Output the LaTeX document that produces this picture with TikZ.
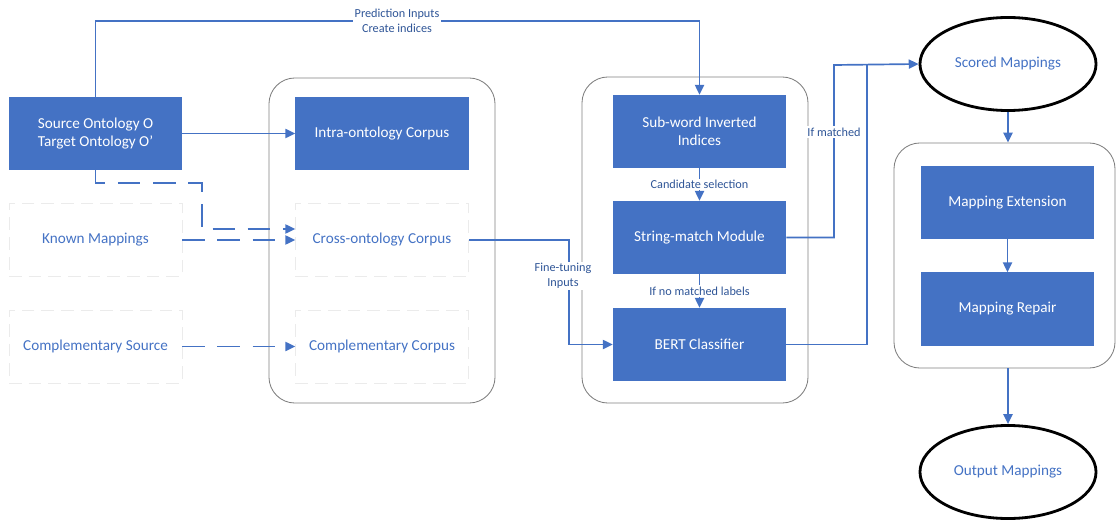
\documentclass[tikz,border=0pt]{standalone}
\usepackage{fontspec}
\setmainfont{Carlito}
\usetikzlibrary{arrows.meta,positioning,calc,shapes.geometric}
\definecolor{boxblue}{HTML}{4472C4}
\definecolor{lblblue}{HTML}{2F5597}
\definecolor{grpgray}{HTML}{7F7F7F}

\begin{document}
\begin{tikzpicture}[x=0.025cm, y=-0.025cm, font=\fontsize{10.8}{13}\selectfont]
    \tikzset{blk/.style={fill=boxblue, text=white, minimum width=4.325cm, minimum height=1.825cm,
             align=center, inner sep=2pt},
             ghost/.style={draw=black!8, dash pattern=on 9pt off 5pt, text=boxblue,
             minimum width=4.325cm, minimum height=1.825cm, align=center},
             grp/.style={draw=grpgray, line width=0.6pt, rounded corners=0.65cm},
             oval/.style={ellipse, draw=black, line width=2pt, text=boxblue,
             minimum width=4.4cm, minimum height=2.325cm},
             link/.style={draw=boxblue, line width=1.2pt, -{Triangle[length=7pt,width=6.5pt]}},
             dlink/.style={link, dash pattern=on 16pt off 9pt},
             lbl/.style={fill=white, text=lblblue, font=\fontsize{8.7}{10.5}\selectfont,
             inner sep=1pt, align=center}}
    \useasboundingbox (0,0) rectangle (1117,525);
    \node[grp, minimum width=5.65cm, minimum height=8.125cm] (grpA) at (382,240.5) {};
    \node[grp, minimum width=5.65cm, minimum height=8.15cm]  (grpB) at (695,240) {};
    \node[grp, minimum width=5.525cm, minimum height=5.625cm] (grpC) at (1004.5,255.5) {};
    \node[blk]   (src)   at (95.5,133.5) {Source Ontology O\\Target Ontology O’};
    \node[blk]   (intra) at (382,133.5)  {Intra-ontology Corpus};
    \node[ghost] (known) at (95.5,240)   {Known Mappings};
    \node[ghost] (cross) at (382,240)    {Cross-ontology Corpus};
    \node[ghost] (comp)  at (95.5,346.5) {Complementary Source};
    \node[ghost] (compc) at (382,346.5)  {Complementary Corpus};
    \node[blk]   (sub)   at (699.5,131.5) {Sub-word Inverted\\Indices};
    \node[blk]   (str)   at (699.5,237.5) {String-match Module};
    \node[blk]   (bert)  at (699.5,344.5) {BERT Classifier};
    \node[oval]  (scored) at (1008,64)   {Scored Mappings};
    \node[blk]   (ext)   at (1007.5,202.5) {Mapping Extension};
    \node[blk]   (rep)   at (1007.5,309)   {Mapping Repair};
    \node[oval]  (out)   at (1008,472)   {Output Mappings};
    \coordinate (top) at (0,21);
    \coordinate (dk1) at (202,183);
    \coordinate (dk2) at (202,229);
    \coordinate (ftx) at (569,240);
    \coordinate (mx)  at (834,65);
    \coordinate (bx)  at (867,65);
    \draw[link] (src.north) |- (top -| sub.north) -- (sub.north);
    \node[lbl] (pred) at (397,21) {Prediction Inputs\\Create indices};
    \draw[link] (src.east) -- (intra.west);
    \draw[dlink] (src.south) |- (dk1) -- (dk2) -- (dk2 -| cross.west);
    \draw[dlink] (known.east) -- (cross.west);
    \draw[dlink] (comp.east) -- (compc.west);
    \draw[link] (cross.east) -- (ftx) |- (bert.west);
    \node[lbl] (ft) at (563,276) {Fine-tuning\\Inputs};
    \draw[link] (sub.south) -- node[lbl] (cand) {Candidate selection} (str.north);
    \draw[link] (str.south) -- node[lbl] (nomatch) {If no matched labels} (bert.north);
    \draw[link] (str.east) -| (mx) -- (scored.west);
    \node[lbl] (ifm) at (834,132) {If matched};
    \draw[link, -] (bert.east) -| (bx);
    \draw[link] (scored.south) -- (scored.south |- grpC.north);
    \draw[link] (ext.south) -- (rep.north);
    \draw[link] (out.north |- grpC.south) -- (out.north);
\end{tikzpicture}
\end{document}
